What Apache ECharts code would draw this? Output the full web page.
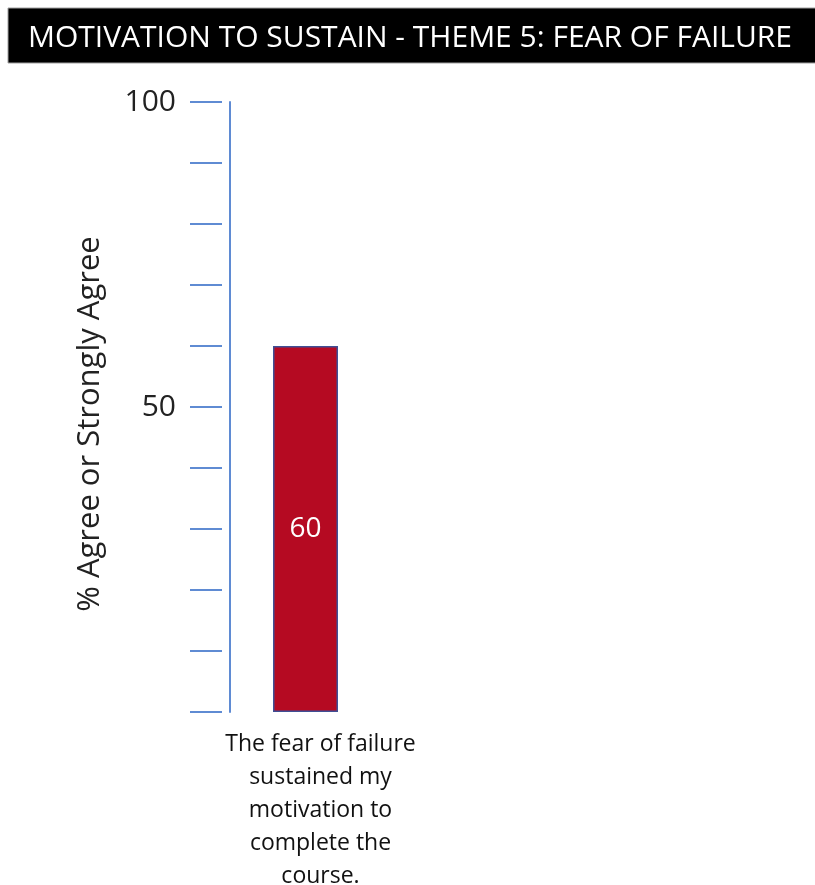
<!DOCTYPE html>
<html>
<head>
<meta charset="utf-8">
<script src="https://cdn.jsdelivr.net/npm/echarts@6/dist/echarts.min.js"></script>
<style>
  html, body { margin: 0; padding: 0; background: #fff; }
  #chart { width: 815px; height: 885px; }
</style>
</head>
<body>
<div id="chart"></div>
<script>
  const titleText = 'MOTIVATION TO SUSTAIN - THEME 5: FEAR OF FAILURE';
  const categories = ['The fear of failure\nsustained my\nmotivation to\ncomplete the\ncourse.'];
  const values = [60];
  const shownTicks = [50, 100];
  const yName = '% Agree or Strongly Agree';

  const font = '"Open Sans", sans-serif';
  const axisBlue = '#5f8bd3';
  const chart = echarts.init(document.getElementById('chart'));

  chart.setOption({
    animation: false,
    graphic: [
      {
        type: 'rect',
        shape: { x: 8, y: 8, width: 812, height: 55 },
        style: { fill: '#000', stroke: '#a0a0a0', lineWidth: 1 }
      },
      {
        type: 'text',
        x: 410, y: 38,
        style: {
          text: titleText,
          fill: '#fff',
          font: '30px ' + font,
          textAlign: 'center',
          textVerticalAlign: 'middle'
        }
      }
    ],
    grid: { left: 230, top: 102, bottom: 173, width: 151, outerBoundsMode: 'none' },
    xAxis: {
      type: 'category',
      data: categories,
      axisLine: { show: false },
      axisTick: { show: false },
      axisLabel: {
        margin: 16,
        color: '#111',
        fontFamily: font,
        fontSize: 23,
        lineHeight: 33,
        padding: [0, 0, 0, 30]
      }
    },
    yAxis: [
      {
        type: 'value',
        min: 0, max: 100, interval: 10,
        position: 'left',
        axisLine: { show: true, lineStyle: { color: axisBlue, width: 2 } },
        axisTick: { show: false },
        axisLabel: { show: false },
        splitLine: { show: false },
        name: yName,
        nameLocation: 'middle',
        nameGap: 124,
        nameTextStyle: { color: '#222', fontFamily: font, fontSize: 31, padding: [0, 34, 0, 0] }
      },
      {
        type: 'value',
        min: 0, max: 100, interval: 10,
        position: 'left',
        offset: 8,
        axisLine: { show: false },
        axisTick: { show: true, length: 32, lineStyle: { color: axisBlue, width: 2 } },
        splitLine: { show: false },
        axisLabel: {
          margin: 46,
          color: '#222',
          fontFamily: font,
          fontSize: 30,
          formatter: v => shownTicks.includes(v) ? String(v) : ''
        }
      }
    ],
    series: [
      {
        type: 'bar',
        data: values,
        barWidth: 65,
        itemStyle: { color: '#b50a22', borderColor: '#3f4f95', borderWidth: 1.5 },
        label: {
          show: true,
          position: 'inside',
          color: '#fff',
          fontFamily: font,
          fontSize: 28
        }
      }
    ]
  });
</script>
</body>
</html>
